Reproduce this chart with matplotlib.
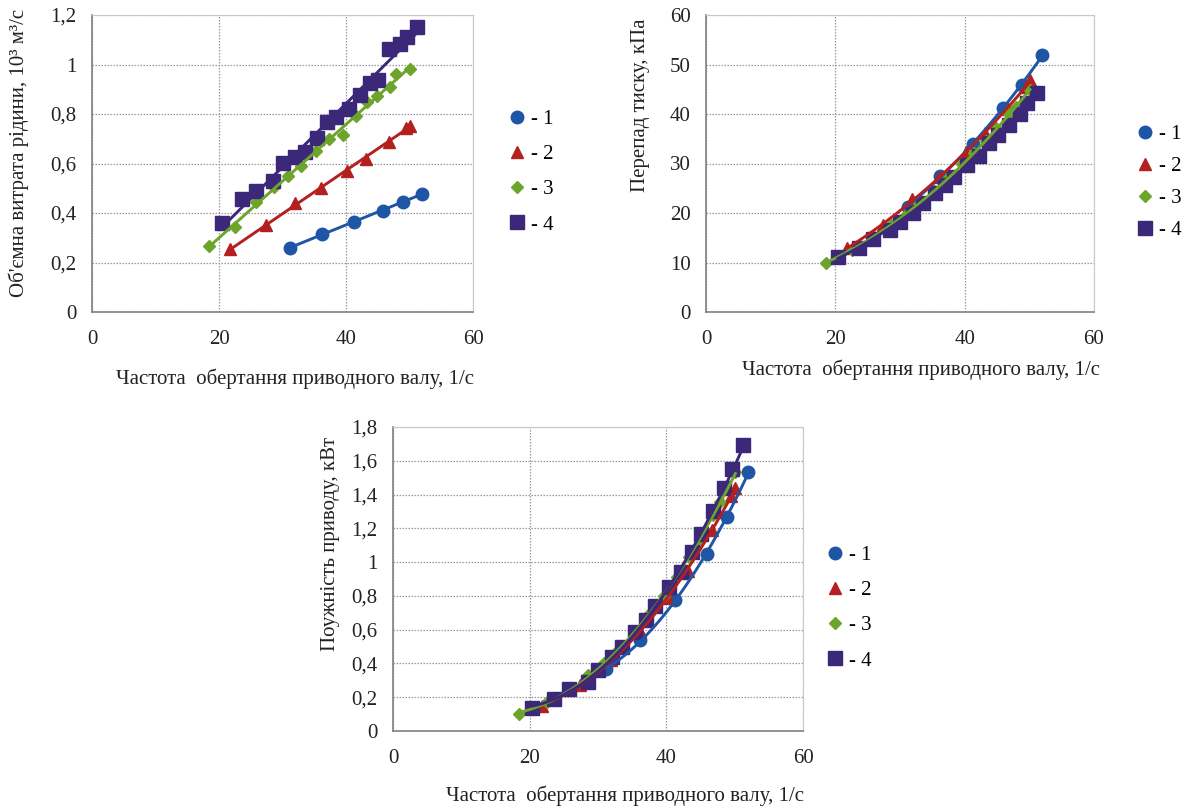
import numpy as np
import matplotlib
matplotlib.use("Agg")
import matplotlib.pyplot as plt
from matplotlib.lines import Line2D

plt.rcParams["font.family"] = ["Liberation Serif", "DejaVu Serif"]
plt.rcParams["font.size"] = 15

# shaft speed, 1/s (same runs on all three charts)
n1 = [31.2, 36.2, 41.3, 45.9, 48.9, 52.0]
n2 = [21.8, 27.4, 31.9, 36.1, 40.2, 43.1, 46.7, 49.5, 50.1]
n3 = [18.5, 22.5, 25.8, 28.6, 30.9, 32.9, 35.3, 37.4, 39.6, 41.5, 43.3, 44.9, 46.9, 47.9, 50.1]
n4 = [20.4, 23.6, 25.8, 28.5, 30.0, 32.0, 33.5, 35.4, 37.0, 38.4, 40.4, 42.2, 43.8, 45.1, 46.8, 48.5, 49.6, 51.2]

# volume flow, 10^3 m3/s
q1 = [0.26, 0.314, 0.365, 0.41, 0.446, 0.477]
q2 = [0.253, 0.352, 0.439, 0.50, 0.571, 0.617, 0.688, 0.745, 0.752]
q3 = [0.268, 0.345, 0.446, 0.506, 0.55, 0.59, 0.65, 0.699, 0.715, 0.79, 0.85, 0.873, 0.91, 0.962, 0.98]
q4 = [0.358, 0.457, 0.49, 0.531, 0.603, 0.625, 0.648, 0.702, 0.766, 0.789, 0.819, 0.877, 0.924, 0.937, 1.061, 1.083, 1.11, 1.15]

# pressure drop, kPa
p1 = [21.3, 27.5, 33.9, 41.3, 45.9, 51.9]
p2 = [12.9, 17.6, 22.8, 27.3, 32.4, 36.1, 41.1, 45.4, 46.9]
p3 = [10.0, 12.5, 15.3, 17.5, 19.6, 22.0, 24.4, 27.0, 29.8, 32.1, 34.6, 37.1, 40.1, 41.4, 44.8]
p4 = [11.2, 12.9, 14.7, 16.6, 18.2, 20.1, 22.0, 24.0, 25.7, 27.3, 29.7, 31.5, 34.2, 35.8, 37.8, 40.1, 42.2, 44.3]

# drive power, kW
w1 = [0.365, 0.54, 0.775, 1.05, 1.265, 1.535]
w2 = [0.15, 0.275, 0.42, 0.59, 0.79, 0.95, 1.19, 1.39, 1.44]
w3 = [0.10, 0.17, 0.245, 0.33, 0.40, 0.48, 0.585, 0.69, 0.80, 0.91, 1.03, 1.13, 1.28, 1.355, 1.535]
w4 = [0.134, 0.188, 0.247, 0.292, 0.361, 0.44, 0.50, 0.588, 0.657, 0.74, 0.854, 0.943, 1.062, 1.166, 1.30, 1.437, 1.549, 1.693]

labels = ["- 1", "- 2", "- 3", "- 4"]
xticks = [0, 20, 40, 60]
q_ticks = [0, 0.2, 0.4, 0.6, 0.8, 1.0, 1.2]
q_ticklabels = ["0", "0,2", "0,4", "0,6", "0,8", "1", "1,2"]
p_ticks = [0, 10, 20, 30, 40, 50, 60]
p_ticklabels = ["0", "10", "20", "30", "40", "50", "60"]
w_ticks = [0, 0.2, 0.4, 0.6, 0.8, 1.0, 1.2, 1.4, 1.6, 1.8]
w_ticklabels = ["0", "0,2", "0,4", "0,6", "0,8", "1", "1,2", "1,4", "1,6", "1,8"]

xlabel = "Частота  обертання приводного валу, 1/с"

colors = ["#1f55a5", "#b41f1f", "#6ca52a", "#3c2878"]
markers = ["o", "^", "D", "s"]
msizes = [9, 9, 6, 9.5]

fig = plt.figure(figsize=(11.87, 8.07), dpi=100)


def panel(rect, xs, ys, deg, yticks, yticklabels, ylabel, xlab_xy, ylab_xy, leg_xy, leg_gap):
    ax = fig.add_axes(rect)
    for x, y, c, m, ms in zip(xs, ys, colors, markers, msizes):
        ax.plot(x, y, linestyle="none", marker=m, ms=ms, color=c, zorder=3)
        # trendline through the points
        coef = np.polyfit(x, y, deg)
        xx = np.linspace(min(x), max(x), 100)
        ax.plot(xx, np.polyval(coef, xx), color=c, lw=2.1, zorder=4)
    ax.set_xlim(0, 60)
    ax.set_ylim(yticks[0], yticks[-1])
    ax.set_xticks(xticks)
    ax.set_yticks(yticks)
    ax.set_yticklabels(yticklabels)
    ax.tick_params(length=0, colors="#222222")
    ax.tick_params(axis="x", pad=13)
    ax.tick_params(axis="y", pad=11)
    ax.grid(True, linestyle=(0, (1.2, 1.2)), color="#9a9a9a", lw=0.9)
    ax.set_axisbelow(True)
    for s in ["left", "bottom"]:
        ax.spines[s].set_color("#808080")
        ax.spines[s].set_linewidth(1.2)
    for s in ["top", "right"]:
        ax.spines[s].set_color("#c8c8c8")
    ax.set_xlabel(xlabel, color="#222222")
    ax.xaxis.set_label_coords(*xlab_xy)
    ax.set_ylabel(ylabel, color="#222222")
    ax.yaxis.set_label_coords(*ylab_xy)
    handles = [Line2D([], [], linestyle="none", marker=m, ms=ms, color=c)
               for c, m, ms in zip(colors, markers, msizes)]
    fig.legend(handles, labels, loc="upper left", bbox_to_anchor=leg_xy,
               frameon=False, borderpad=0, handlelength=0.8, handletextpad=0.3,
               labelspacing=leg_gap, fontsize=15)
    return ax


panel([92 / 1187, 1 - 312 / 807, 381 / 1187, 297 / 807],
      [n1, n2, n3, n4], [q1, q2, q3, q4], 1,
      q_ticks, q_ticklabels, "Об'ємна витрата рідини, 10³ м³/с",
      (0.533, -0.19), (-0.165, 0.535), (498 / 1187, 1 - 99 / 807), 0.75)

panel([706 / 1187, 1 - 312 / 807, 388 / 1187, 297 / 807],
      [n1, n2, n3, n4], [p1, p2, p3, p4], 2,
      p_ticks, p_ticklabels, "Перепад тиску, кПа",
      (0.554, -0.16), (-0.144, 0.697), (1126 / 1187, 1 - 114 / 807), 0.6)

panel([393 / 1187, 1 - 731 / 807, 410 / 1187, 304 / 807],
      [n1, n2, n3, n4], [w1, w2, w3, w4], 2,
      w_ticks, w_ticklabels, "Поужність приводу, кВт",
      (0.566, -0.178), (-0.129, 0.615), (816 / 1187, 1 - 535 / 807), 0.75)

fig.savefig("out.png", dpi=100)
